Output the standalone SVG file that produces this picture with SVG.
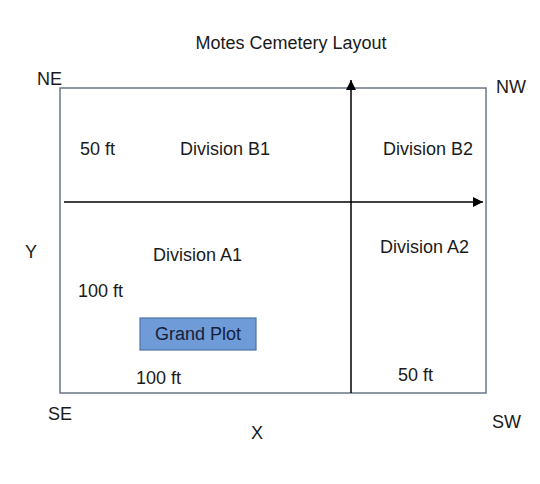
<svg xmlns="http://www.w3.org/2000/svg" width="540" height="484" viewBox="0 0 540 484">
<style>
text{font-family:"Liberation Sans",Arial,sans-serif;font-size:18px;fill:#1a1a1a}
.frame{fill:none;stroke:#6b7687;stroke-width:1.5}
.axis{stroke:#000;stroke-width:1.5;fill:none}
</style>
<defs>
<marker id="ah" viewBox="0 0 10 10" refX="10" refY="5" markerWidth="10" markerHeight="10" markerUnits="userSpaceOnUse" orient="auto">
<path d="M0,0 L10,5 L0,10 Z" fill="#000"/>
</marker>
</defs>
<rect width="540" height="484" fill="#fff"/>
<text x="291" y="49" text-anchor="middle">Motes Cemetery Layout</text>
<g id="frame"><rect class="frame" x="60" y="88" width="426" height="305"/></g>
<g id="connectors">
<line class="axis" x1="351" y1="393" x2="351" y2="80" marker-end="url(#ah)"/>
<line class="axis" x1="64" y1="202" x2="483" y2="202" marker-end="url(#ah)"/>
</g>
<g id="labels">
<text x="37" y="85">NE</text>
<text x="496" y="93">NW</text>
<text x="48" y="420">SE</text>
<text x="492" y="428">SW</text>
<text x="25" y="258">Y</text>
<text x="251" y="439">X</text>
<text x="80" y="155">50 ft</text>
<text x="180" y="155">Division B1</text>
<text x="383" y="155">Division B2</text>
<text x="153" y="261">Division A1</text>
<text x="380" y="253">Division A2</text>
<text x="78" y="297">100 ft</text>
<text x="136" y="384">100 ft</text>
<text x="398" y="381">50 ft</text>
</g>
<g id="grand-plot">
<rect x="140" y="318" width="116" height="32" fill="#6f9bd8" stroke="#4d73a6" stroke-width="1.2"/>
<text x="198" y="340" text-anchor="middle" style="fill:#14213a">Grand Plot</text>
</g>
</svg>
